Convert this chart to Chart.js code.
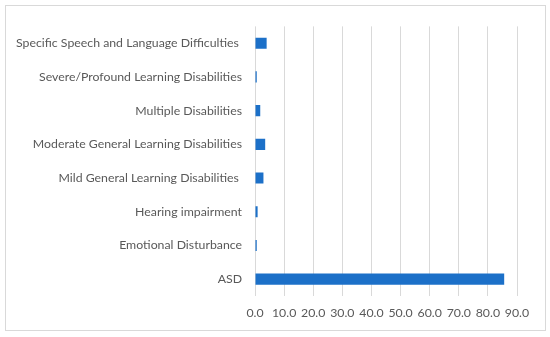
<!DOCTYPE html>
<html>
<head>
<meta charset="utf-8">
<script src="https://cdn.jsdelivr.net/npm/chart.js@4"></script>
<style>
    body { margin: 0; background: #fff; }
    #frame { position: absolute; left: 5px; top: 5px; width: 539px; height: 324px; border: 1px solid #d9d9d9; }
</style>
</head>
<body>
<div id="frame"><canvas id="barChart"></canvas></div>
<script>
var categories = [
    "Specific Speech and Language Difficulties ",
    "Severe/Profound Learning Disabilities",
    "Multiple Disabilities",
    "Moderate General Learning Disabilities",
    "Mild General Learning Disabilities ",
    "Hearing impairment",
    "Emotional Disturbance",
    "ASD"
];
var percentages = [4.0, 0.6, 1.8, 3.5, 2.9, 0.9, 0.6, 85.6];
var xTicks = [0, 10, 20, 30, 40, 50, 60, 70, 80, 90];

var ctx = document.getElementById("barChart").getContext("2d");

var barChart = new Chart(ctx, {
    type: 'bar',
    data: {
        labels: categories,
        datasets: [{
            data: percentages,
            backgroundColor: "#1c70c8",
            barPercentage: 0.33,
            categoryPercentage: 1.0
        }]
    },
    options: {
        indexAxis: 'y',
        responsive: true,
        maintainAspectRatio: false,
        animation: false,
        layout: {
            padding: { left: 0, top: 15, right: 28, bottom: 10 }
        },
        plugins: {
            legend: { display: false },
            tooltip: { enabled: false }
        },
        scales: {
            x: {
                min: 0,
                max: 90,
                afterBuildTicks: function (scale) {
                    scale.ticks = xTicks.map(function (v) { return { value: v }; });
                },
                afterFit: function (scale) { scale.height = 24; },
                ticks: {
                    color: "#595959",
                    font: { family: "Lato", size: 12.3 },
                    padding: 10,
                    maxRotation: 0,
                    minRotation: 0,
                    autoSkip: false,
                    callback: function (value) { return value.toFixed(1); }
                },
                grid: { color: "#d9d9d9", drawTicks: false },
                border: { display: false }
            },
            y: {
                afterFit: function (scale) { scale.width = 249; },
                ticks: {
                    color: "#595959",
                    font: { family: "Lato", size: 12.3 },
                    padding: 13
                },
                grid: { display: false, drawTicks: false },
                border: { display: false }
            }
        }
    }
});
</script>
</body>
</html>
